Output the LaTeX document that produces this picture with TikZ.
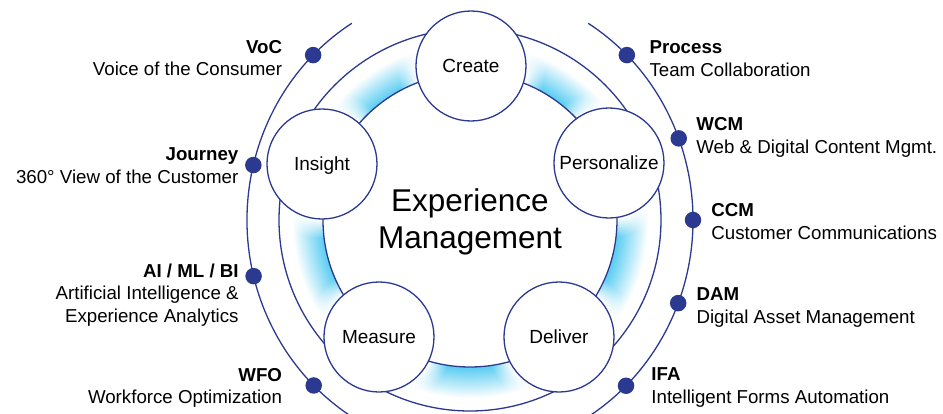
\documentclass[tikz,border=0pt]{standalone}
\usepackage{fontspec}
\setmainfont{Liberation Sans}
\usetikzlibrary{calc,fadings}

\definecolor{navy}{RGB}{43,57,144}
\definecolor{bandcyan}{RGB}{88,204,242}

% band: cyan at the inner edge, white at the outer edge
\pgfdeclareradialshading{bandshade}{\pgfpointorigin}{color(0bp)=(white); color(19.2bp)=(white); color(19.25bp)=(bandcyan); color(23.3bp)=(white); color(50bp)=(white)}
% white glow round the stage circles
\pgfdeclareradialshading{halogray}{\pgfpointorigin}{color(0bp)=(white); color(18.6bp)=(white); color(25bp)=(black); color(50bp)=(black)}
\pgfdeclarefading{halofade}{\pgfuseshading{halogray}}

\begin{document}
\begin{tikzpicture}[x=1pt,y=1pt,inner sep=0pt,outer sep=0pt,
    stage/.style={circle, draw=navy, line width=1.3pt, fill=white, minimum size=110pt,
        text height=13.6pt, text depth=0pt, font=\fontsize{19}{22}\selectfont},
    lbl/.style={font=\fontsize{18.7}{22.5}\selectfont},
    dot/.style={circle, fill=navy, minimum size=16.5pt},
    ring/.style={draw=navy, line width=1.3pt}]
    \useasboundingbox (-470,-193) rectangle (473,220);

    % stage centres
    \coordinate (create_c) at (1,154);
    \coordinate (insight_c) at (-148,56);
    \coordinate (personalize_c) at (139,57);
    \coordinate (measure_c) at (-91,-117);
    \coordinate (deliver_c) at (89,-117);

    % band
    \shade[shading=bandshade, even odd rule] (0,0) circle (191) (0,0) circle (147);
    \foreach \s in {create_c,insight_c,personalize_c,measure_c,deliver_c}
        \fill[white, path fading=halofade] (\s) circle (74);
    \draw[ring] (0,0) circle (191) (0,0) circle (147);

    % outer arcs
    \draw[ring] (58:223 and 232) arc[start angle=58, end angle=-58, x radius=223, y radius=232];
    \draw[ring] (122:223 and 232) arc[start angle=122, end angle=238, x radius=223, y radius=232];

    % dots
    \node[dot] (voc) at (134.7:223 and 232) {};
    \node[dot] (journey) at (166.3:223 and 232) {};
    \node[dot] (ai) at (194:223 and 232) {};
    \node[dot] (wfo) at (225.5:223 and 232) {};
    \node[dot] (process) at (45.3:223 and 232) {};
    \node[dot] (wcm) at (20.6:223 and 232) {};
    \node[dot] (ccm) at (0:223 and 232) {};
    \node[dot] (dam) at (-21:223 and 232) {};
    \node[dot] (ifa) at (-45.6:223 and 232) {};

    % stages
    \node[stage] (create) at (create_c) {Create};
    \node[stage] (insight) at (insight_c) {Insight};
    \node[stage] (personalize) at (personalize_c) {Personalize};
    \node[stage] (measure) at (measure_c) {Measure};
    \node[stage] (deliver) at (deliver_c) {Deliver};

    % base = last line
    \node[anchor=base, align=center, font=\fontsize{31.5}{36.6}\selectfont] (xm) at (0,-28.3)
    {Experience\\Management};

    % left labels
    \node[lbl, anchor=base east, align=right] (voc_txt) at ($(voc)+(-31,-20.7)$)
    {\textbf{VoC}\\Voice of the Consumer};
    \node[lbl, anchor=base east, align=right] (journey_txt) at ($(journey)+(-15,-18.3)$)
    {\textbf{Journey}\\360° View of the Customer};
    \node[lbl, anchor=base east, align=right] (ai_txt) at ($(ai)+(-15,-46)$)
    {\textbf{AI / ML / BI}\\Artificial Intelligence \&\\Experience Analytics};
    \node[lbl, anchor=base east, align=right] (wfo_txt) at ($(wfo)+(-31.7,-18.3)$)
    {\textbf{WFO}\\Workforce Optimization};

    % right labels
    \node[lbl, anchor=base west, align=left] (process_txt) at ($(process)+(22.7,-21)$)
    {\textbf{Process}\\Team Collaboration};
    \node[lbl, anchor=base west, align=left] (wcm_txt) at ($(wcm)+(17.7,-15)$)
    {\textbf{WCM}\\Web \& Digital Content Mgmt.};
    \node[lbl, anchor=base west, align=left] (ccm_txt) at ($(ccm)+(18.4,-19.3)$)
    {\textbf{CCM}\\Customer Communications};
    \node[lbl, anchor=base west, align=left] (dam_txt) at ($(dam)+(18.4,-20)$)
    {\textbf{DAM}\\Digital Asset Management};
    \node[lbl, anchor=base west, align=left] (ifa_txt) at ($(ifa)+(25.4,-17.3)$)
    {\textbf{IFA}\\Intelligent Forms Automation};
\end{tikzpicture}
\end{document}
